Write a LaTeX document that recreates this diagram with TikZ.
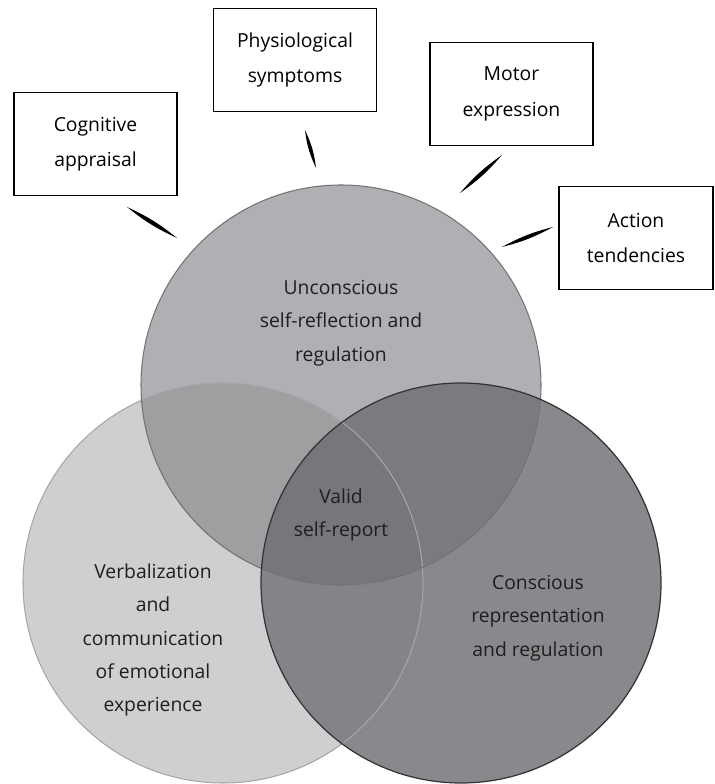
\documentclass[tikz,border=0pt]{standalone}
\usepackage{fontspec}
\setmainfont{Open Sans}
\usetikzlibrary{positioning}
\definecolor{textgray}{RGB}{30,30,30}
\definecolor{topgray}{RGB}{176,176,180}
\definecolor{leftgray}{RGB}{206,207,209}
\definecolor{rightgray}{RGB}{137,137,141}
\definecolor{topleftgray}{RGB}{159,159,162}
\definecolor{toprightgray}{RGB}{122,123,127}
\definecolor{lowgray}{RGB}{132,132,136}
\definecolor{centergray}{RGB}{118,119,123}
\newcommand{\topcircle}{(6.82,7.98) circle (4cm)}
\newcommand{\leftcircle}{(4.46,4.02) circle (4cm)}
\newcommand{\rightcircle}{(9.22,4.02) circle (4cm)}

\begin{document}
\begin{tikzpicture}[
      % GLOBAL CFG
      font=\fontsize{11}{19}\selectfont,
      % Styles
      label/.style={% For the texts inside the circles
        align=center,
        text=textgray,
        inner sep=0pt
      },
      box/.style={% For the components
        rectangle,
        draw,
        line width=1pt,
        fill=white,
        align=center,
        minimum width=3.26cm,
        minimum height=2.06cm,
        font=\fontsize{11}{20}\selectfont
      },
      wedge/.style={% For the pointers
        fill=black,
        draw=none
      }
      ]

      \useasboundingbox (0,0) rectangle (14.28,15.68);

      % The three circles
      \fill [leftgray] \leftcircle;
      \fill [rightgray] \rightcircle;
      \fill [topgray] \topcircle;

      % Overlaps
      \begin{scope}
        \clip \topcircle;
        \fill [topleftgray] \leftcircle;
        \fill [toprightgray] \rightcircle;
      \end{scope}
      \begin{scope}
        \clip \leftcircle;
        \fill [lowgray] \rightcircle;
      \end{scope}
      \begin{scope}
        \clip \leftcircle;
        \clip \rightcircle;
        \fill [centergray] \topcircle;
      \end{scope}

      % Borders
      \draw [black!35, line width=0.6pt] \leftcircle;
      \draw [black!55, line width=0.6pt] \topcircle;
      \draw [black!80, line width=0.7pt] \rightcircle;

      % Texts
      \node [label] (unconscious) at (6.82,9.22) {Unconscious\\self-reflection and\\regulation};
      \node [label] (valid) at (6.82,5.38) {Valid\\self-report};
      \node [label] (verbal) at (3.06,2.88) {Verbalization\\and\\communication\\of emotional\\experience};
      \node [label] (conscious) at (10.76,3.32) {Conscious\\representation\\and regulation};

      % Components
      \node [box] (cognitive) at (1.91,12.80) {Cognitive\\appraisal};
      \node [box] (physio) at (5.90,14.48) {Physiological\\symptoms};
      \node [box] (motor) at (10.23,13.80) {Motor\\expression};
      \node [box, minimum width=3.08cm] (action) at (12.72,10.92) {Action\\tendencies};

      % Pointers
      \coordinate (cognitiveA) at (2.54,11.54);
      \coordinate (cognitiveB) at (3.54,10.92);
      \coordinate (physioA) at (6.10,13.08);
      \coordinate (physioB) at (6.32,12.32);
      \coordinate (motorA) at (10.04,12.58);
      \coordinate (motorB) at (9.20,11.82);
      \coordinate (actionA) at (11.06,11.14);
      \coordinate (actionB) at (10.04,10.74);

      \fill [wedge] (cognitiveA) to[bend left=7] (cognitiveB) to[bend left=7] (cognitiveA);
      \fill [wedge] (physioA) to[bend left=9] (physioB) to[bend left=9] (physioA);
      \fill [wedge] (motorA) to[bend left=7] (motorB) to[bend left=7] (motorA);
      \fill [wedge] (actionA) to[bend left=7] (actionB) to[bend left=7] (actionA);
    \end{tikzpicture}
\end{document}
